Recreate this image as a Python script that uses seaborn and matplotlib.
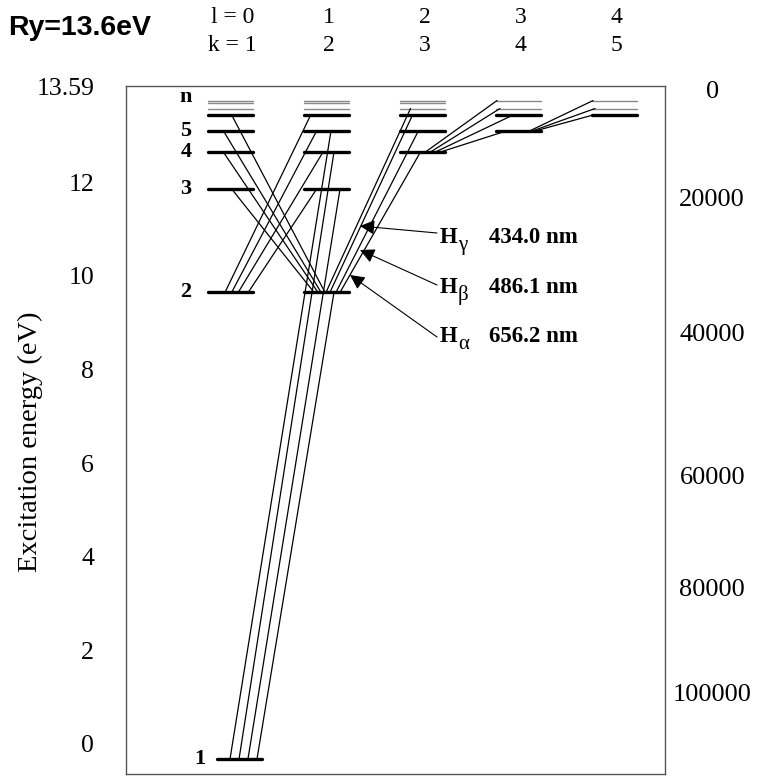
import numpy as np
import pandas as pd
import matplotlib
matplotlib.use('Agg')
import matplotlib.pyplot as plt
import seaborn as sns

# drawn level heights on the left (eV) scale
row_E = [-0.32, 9.645, 11.852, 12.642, 13.096, 13.431, 13.57, 13.68, 13.74]
row_thick = [True, True, True, True, True, True, False, False, False]
level_names = ['1', '2', '3', '4', '5', 'n']
level_name_rows = [0, 1, 2, 3, 4, 5]

# columns l = 0..4 (k = l + 1) and which rows are drawn in each
col_l = ['l = 0', '1', '2', '3', '4']
col_k = ['k = 1', '2', '3', '4', '5']
col_rows = [[0, 1, 2, 3, 4, 5, 6, 7, 8],
            [1, 2, 3, 4, 5, 6, 7, 8],
            [3, 4, 5, 6, 7, 8],
            [4, 5, 6, 8],
            [5, 6, 8]]

# transitions: (column, row) lower -> (column, row) upper, with attach offsets
tr_lo = [(0, 0), (0, 0), (0, 0), (0, 0),
         (1, 1), (1, 1), (1, 1), (1, 1),
         (0, 1), (0, 1), (0, 1), (0, 1),
         (1, 1), (1, 1), (1, 1), (1, 1),
         (2, 3), (2, 3), (2, 3), (2, 3),
         (3, 4), (3, 4), (3, 4)]
tr_hi = [(1, 4), (1, 3), (1, 2), (1, 1),
         (0, 5), (0, 4), (0, 3), (0, 2),
         (1, 5), (1, 4), (1, 3), (1, 2),
         (2, 3), (2, 4), (2, 5), (2, 6),
         (3, 8), (3, 6), (3, 5), (3, 4),
         (4, 8), (4, 6), (4, 5)]
off_lo = [-0.005, 0.089, 0.182, 0.276,
          -0.016, -0.057, -0.089, -0.130,
          -0.057, 0.0125, 0.081, 0.185,
          0.141, 0.099, 0.036, -0.005,
          0.031, 0.083, 0.135, 0.188,
          0.12, 0.151, 0.182]
off_hi = [0.047, 0.078, 0.141, 0.078,
          0.0125, -0.075, -0.075, 0.0125,
          -0.165, -0.102, -0.036, -0.102,
          -0.021, -0.042, -0.104, -0.125,
          -0.224, -0.193, -0.057, -0.12,
          -0.224, -0.203, -0.224]

lines_txt = [('\u03b3', '434.0 nm'), ('\u03b2', '486.1 nm'), ('\u03b1', '656.2 nm')]

left_ticks = [0, 2, 4, 6, 8, 10, 12, 14.03]
left_labels = ['0', '2', '4', '6', '8', '10', '12', '13.59']
right_ticks = [13.97, 11.68, 8.78, 5.74, 3.35, 1.09]
right_labels = ['0', '20000', '40000', '60000', '80000', '100000']

HALF = 0.234
GROUND_SHIFT = 0.09

sns.set_theme(style='white')
plt.rcParams['font.family'] = ['Liberation Serif', 'DejaVu Serif']
plt.rcParams['text.color'] = 'black'
plt.rcParams['ytick.color'] = 'black'
plt.rcParams['xtick.color'] = 'black'

fig = plt.figure(figsize=(7.7, 7.8), dpi=100)
ax = fig.add_axes([126/770, 1-774/780, (665-126)/770, (774-86)/780])
XL = (-1.0885, 4.526)
YL = (-0.641, 14.051)


def px(x, y):
    # pixel position -> data coords (for annotations)
    return ((x - 230.5) / 96.0, (744 - y) / 46.83)


def xc(col, row):
    return col + (GROUND_SHIFT if row == 0 else 0)


# level bars
rows = []
for c, rr in enumerate(col_rows):
    for r in rr:
        for s in (-HALF, HALF):
            rows.append(dict(seg=f'{c}-{r}', x=xc(c, r) + s, y=row_E[r],
                             thick=row_thick[r]))
lev = pd.DataFrame(rows)
sns.lineplot(data=lev[lev.thick], x='x', y='y', units='seg', estimator=None,
             sort=False, color='black', lw=2.4, ax=ax)
sns.lineplot(data=lev[~lev.thick], x='x', y='y', units='seg', estimator=None,
             sort=False, color='#888888', lw=1.0, ax=ax)

# transitions
rows = []
for i, (lo, hi) in enumerate(zip(tr_lo, tr_hi)):
    rows.append(dict(seg=i, x=xc(*lo) + off_lo[i] - (GROUND_SHIFT if lo[1] == 0 else 0),
                     y=row_E[lo[1]]))
    rows.append(dict(seg=i, x=xc(*hi) + off_hi[i], y=row_E[hi[1]]))
tr = pd.DataFrame(rows)
sns.lineplot(data=tr, x='x', y='y', units='seg', estimator=None, sort=False,
             color='black', lw=0.9, ax=ax)

ax.set_xlim(*XL)
ax.set_ylim(*YL)
ax.set_xlabel('')
ax.set_ylabel('')
ax.set_xticks([])
ax.set_yticks(left_ticks)
ax.set_yticklabels(left_labels, fontsize=18.5)
ax.tick_params(axis='y', length=0, pad=23)
for sp in ax.spines.values():
    sp.set_color('#555555')
    sp.set_linewidth(1.0)

ax2 = ax.twinx()
ax2.set_ylim(*YL)
ax2.set_yticks(right_ticks)
ax2.set_yticklabels(right_labels, fontsize=19)
ax2.tick_params(axis='y', length=0, pad=34)
for t in ax2.get_yticklabels():
    t.set_ha('center')
ax2.grid(False)
for sp in ax2.spines.values():
    sp.set_visible(False)

# column headers
for c in range(5):
    ax.text(c + 0.02, px(0, 17)[1], col_l[c], ha='center', va='center', fontsize=17, clip_on=False)
    ax.text(c + 0.02, px(0, 45)[1], col_k[c], ha='center', va='center', fontsize=17, clip_on=False)

# level names
for name, r in zip(level_names, level_name_rows):
    xx = px(200 if r == 0 else 186, 0)[0]
    yy = row_E[r] if name != 'n' else px(0, 97)[1]
    ax.text(xx, yy, name, ha='center', va='center', fontsize=16, fontweight='bold')

# H alpha/beta/gamma arrows
tips = [(360, 226), (360, 250), (350, 275)]
tails = [(437, 233), (437, 285), (437, 337)]
texty = [237, 287, 337]
for (g, wl), tip, tail, ty in zip(lines_txt, tips, tails, texty):
    ax.annotate('', xy=px(*tip), xytext=px(*tail),
                arrowprops=dict(arrowstyle='-|>', lw=0.8, color='black',
                                mutation_scale=22, shrinkA=0, shrinkB=0))
    ax.text(*px(440, ty), 'H', ha='left', va='center', fontsize=16.5, fontweight='bold')
    ax.text(*px(458, ty + 8), g, ha='left', va='center', fontsize=15)
    ax.text(*px(489, ty), wl, ha='left', va='center', fontsize=16.5, fontweight='bold')

fig.text(30/770, 1-442/780, 'Excitation energy (eV)', rotation=90, ha='center',
         va='center', fontsize=20.5)
fig.text(8/770, 1-28/780, 'Ry=13.6eV', ha='left', va='center', fontsize=20.5,
         fontweight='bold', color='black',
         family=['Liberation Sans Narrow', 'Liberation Sans', 'DejaVu Sans'])

fig.savefig('out.png', dpi=100)
